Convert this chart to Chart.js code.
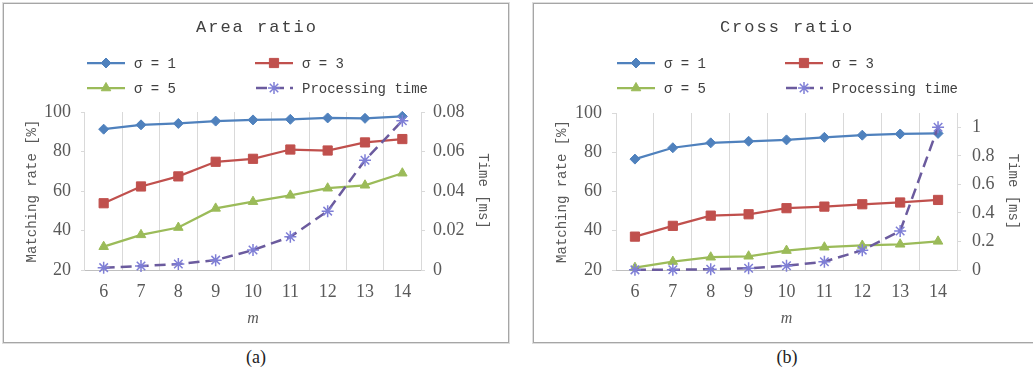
<!DOCTYPE html>
<html>
<head>
<meta charset="utf-8">
<script src="https://cdn.jsdelivr.net/npm/chart.js@4/dist/chart.umd.min.js"></script>
<style>
  html, body { margin: 0; padding: 0; background: #ffffff; }
  body { width: 1033px; height: 375px; overflow: hidden; position: relative; }
  .panel { position: absolute; top: 3px; width: 504px; height: 338px;
           border: 1px solid #a6a6a6; box-shadow: 0 0 0 1px #dedede; background: #fff; }
  #pa { left: 3px; }
  #pb { left: 533px; }
  .panel canvas { position: absolute; left: 0; top: 0; }
  .cap { position: absolute; top: 347px; width: 60px; text-align: center;
         font-family: "Liberation Serif", serif; font-size: 18px; color: #222; }
</style>
</head>
<body>
<div class="panel" id="pa"><canvas id="chartA" width="504" height="338"></canvas></div>
<div class="panel" id="pb"><canvas id="chartB" width="504" height="338"></canvas></div>
<div class="cap" style="left:226px">(a)</div>
<div class="cap" style="left:757px">(b)</div>
<script>
// ---------- data ----------
const categories = ['6', '7', '8', '9', '10', '11', '12', '13', '14'];
const seriesLabels = ['σ = 1', 'σ = 3', 'σ = 5', 'Processing time'];

const areaSigma1 = [91.3, 93.5, 94.2, 95.4, 96.0, 96.3, 97.0, 96.8, 97.8];
const areaSigma3 = [53.8, 62.3, 67.4, 74.8, 76.3, 81.0, 80.5, 84.6, 86.3];
const areaSigma5 = [31.8, 37.8, 41.5, 51.2, 54.6, 57.8, 61.4, 62.9, 69.0];
const areaTime   = [0.0012, 0.0020, 0.0030, 0.0050, 0.0101, 0.0168, 0.0298, 0.0556, 0.0756];

const crossSigma1 = [76.5, 82.3, 84.8, 85.6, 86.3, 87.6, 88.7, 89.3, 89.6];
const crossSigma3 = [37.0, 42.5, 47.7, 48.4, 51.5, 52.3, 53.5, 54.4, 55.7];
const crossSigma5 = [21.2, 24.3, 26.5, 27.0, 29.9, 31.6, 32.5, 33.1, 34.6];
const crossTime   = [0.001, 0.002, 0.005, 0.012, 0.030, 0.058, 0.139, 0.273, 1.0];

const rateTicks = [20, 40, 60, 80, 100];
const areaTimeTicks = [0, 0.02, 0.04, 0.06, 0.08];
const crossTimeTicks = [0, 0.2, 0.4, 0.6, 0.8, 1];

// ---------- styling ----------
const MONO = '"Liberation Mono", "DejaVu Sans Mono", monospace';
const SERIF = '"Liberation Serif", "DejaVu Serif", serif';
const TEXT = '#595959';
const GRID = '#d9d9d9';

const legendGrid = {
  id: 'legendGrid',
  afterDraw(chart, args, opts) {
    const ctx = chart.ctx;
    ctx.save();
    ctx.font = '17px ' + MONO;
    ctx.fillStyle = '#404040';
    ctx.textAlign = 'center';
    ctx.textBaseline = 'middle';
    if ('letterSpacing' in ctx) ctx.letterSpacing = '2px';
    ctx.fillText(opts.title, chart.width / 2 + 1, opts.titleY);
    if ('letterSpacing' in ctx) ctx.letterSpacing = '0px';
    chart.data.datasets.forEach((ds, i) => {
      const col = i % 2, row = Math.floor(i / 2);
      const x0 = opts.cols[col], y = opts.rows[row];
      const x1 = x0 + opts.sampleWidth;
      ctx.save();
      ctx.strokeStyle = ds.borderColor;
      ctx.lineWidth = ds.borderWidth;
      ctx.setLineDash(ds.borderDash || []);
      ctx.lineDashOffset = ds.borderDash ? -1 : 0;
      ctx.beginPath(); ctx.moveTo(x0, y); ctx.lineTo(x1, y); ctx.stroke();
      ctx.setLineDash([]);
      ctx.fillStyle = ds.pointBackgroundColor;
      ctx.strokeStyle = ds.pointBorderColor;
      ctx.lineWidth = ds.pointBorderWidth;
      Chart.helpers.drawPoint(ctx, { pointStyle: ds.pointStyle, radius: ds.pointRadius,
        rotation: 0, borderWidth: ds.pointBorderWidth }, (x0 + x1) / 2, y);
      ctx.restore();
      ctx.font = '14px ' + MONO;
      ctx.fillStyle = '#404040';
      ctx.textAlign = 'left';
      ctx.textBaseline = 'middle';
      ctx.fillText(ds.label, x1 + opts.gap, y + 1);
    });
    ctx.restore();
  }
};

function series(label, data, color, style, radius, extra) {
  return Object.assign({
    label, data, yAxisID: 'y',
    borderColor: color, backgroundColor: color,
    borderWidth: 2.25, tension: 0,
    pointStyle: style, pointRadius: radius, pointHoverRadius: radius,
    pointBackgroundColor: color, pointBorderColor: color, pointBorderWidth: 1,
    clip: false
  }, extra || {});
}

function makeChart(id, p) {
  const fixTicks = (arr) => (scale) => { scale.ticks = arr.map(v => ({ value: v })); };
  return new Chart(document.getElementById(id), {
    type: 'line',
    data: {
      labels: categories,
      datasets: [
        series(seriesLabels[0], p.s1, '#4F81BD', 'rectRot', 5, { order: 4 }),
        series(seriesLabels[1], p.s3, '#C0504D', 'rect', 6.5, { order: 3 }),
        series(seriesLabels[2], p.s5, '#9BBB59', 'triangle', 5.5, { order: 2 }),
        series(seriesLabels[3], p.time, '#6B5B9E', 'star', 6, {
          order: 1, yAxisID: 'y1', borderDash: [11, 6], borderWidth: 2.5,
          pointBorderColor: '#7F7FD6', pointBackgroundColor: '#7F7FD6', pointBorderWidth: 1.5
        })
      ]
    },
    options: {
      responsive: false,
      animation: false,
      events: [],
      layout: { padding: { top: p.top, bottom: p.bottom, left: 0, right: 0 } },
      plugins: {
        legend: { display: false },
        title: { display: false },
        tooltip: { enabled: false },
        legendGrid: { title: p.title, titleY: 23, cols: [83, 251], rows: [59, 84], sampleWidth: 38, gap: 9 }
      },
      scales: {
        x: {
          type: 'category',
          offset: true,
          grid: { offset: true, color: GRID, lineWidth: 1, drawTicks: false },
          border: { display: true, color: '#bfbfbf', width: 1 },
          ticks: { color: TEXT, font: { family: SERIF, size: 18 }, padding: 11, maxRotation: 0, autoSkip: false },
          title: { display: true, text: 'm', color: TEXT, font: { family: SERIF, size: 16, style: 'italic' },
                   padding: { top: 0, bottom: 2 } },
          afterFit(s) { s.height = 60; s.paddingLeft = 0; s.paddingRight = 0; }
        },
        y: {
          position: 'left',
          min: 20, max: 100,
          afterBuildTicks: fixTicks(rateTicks),
          grid: { drawOnChartArea: false, drawTicks: true, tickLength: 4, color: GRID },
          border: { display: false },
          ticks: { color: TEXT, font: { family: SERIF, size: 18 }, padding: 10 },
          title: { display: true, text: 'Matching rate [%]', color: TEXT,
                   font: { family: MONO, size: 14 }, padding: { top: 20, bottom: 0 } },
          afterFit(s) { s.width = p.yW; s.paddingTop = 0; s.paddingBottom = 0; }
        },
        y1: {
          position: 'right',
          min: 0, max: p.timeMax,
          afterBuildTicks: fixTicks(p.timeTicks),
          grid: { drawOnChartArea: false, drawTicks: true, tickLength: 4, color: GRID },
          border: { display: true, color: GRID, width: 1 },
          ticks: { color: TEXT, font: { family: SERIF, size: 18 }, padding: p.y1Pad,
                   callback: (v) => String(Math.round(v * 1000) / 1000) },
          title: { display: true, text: 'Time [ms]', color: TEXT,
                   font: { family: MONO, size: 14 }, padding: { top: 17, bottom: 0 } },
          afterFit(s) { s.width = p.y1W; s.paddingTop = 0; s.paddingBottom = 0; }
        }
      }
    },
    plugins: [legendGrid]
  });
}

makeChart('chartA', {
  title: 'Area ratio', s1: areaSigma1, s3: areaSigma3, s5: areaSigma5, time: areaTime,
  timeMax: 0.08, timeTicks: areaTimeTicks, top: 108, bottom: 12, yW: 81, y1W: 87, y1Pad: 8
});
makeChart('chartB', {
  title: 'Cross ratio', s1: crossSigma1, s3: crossSigma3, s5: crossSigma5, time: crossTime,
  timeMax: 1.1, timeTicks: crossTimeTicks, top: 109, bottom: 12, yW: 82, y1W: 81, y1Pad: 11
});
</script>
</body>
</html>
